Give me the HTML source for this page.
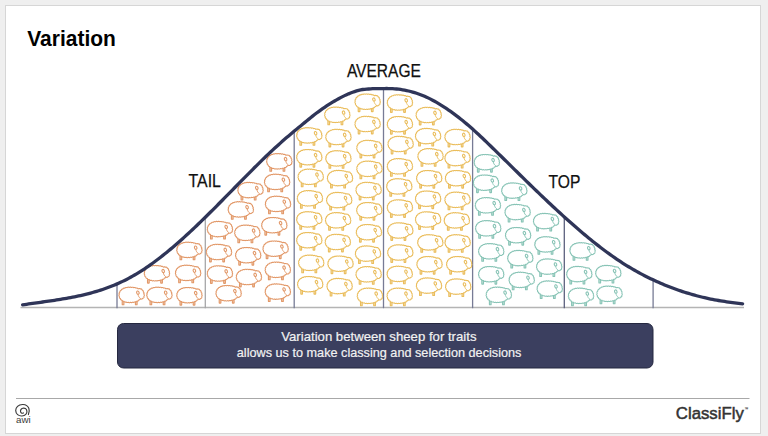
<!DOCTYPE html>
<html><head><meta charset="utf-8"><style>
html,body{margin:0;padding:0;background:#efefef;}
body{width:768px;height:436px;overflow:hidden;position:relative;}
svg{position:absolute;left:0;top:0;}
</style></head><body>
<svg width="768" height="436" viewBox="0 0 768 436">
<defs>
<filter id="wool" x="-5%" y="-5%" width="110%" height="110%">
<feTurbulence type="fractalNoise" baseFrequency="1.1" numOctaves="1" seed="3" result="n"/>
<feDisplacementMap in="SourceGraphic" in2="n" scale="1.1" xChannelSelector="R" yChannelSelector="G"/>
</filter>
<symbol id="sh" viewBox="0 0 28 21" width="28" height="21" overflow="visible">
<g fill="#fff" stroke="currentColor" stroke-width="1.1" stroke-linejoin="round">
<rect x="3.5" y="12.3" width="1.7" height="5.6" rx="0.3" fill="currentColor" fill-opacity="0.45"/>
<rect x="16.7" y="11.8" width="1.7" height="6.1" rx="0.3" fill="currentColor" fill-opacity="0.45"/>
<path d="M10.60,0.60 10.85,0.46 11.10,0.34 11.36,0.26 11.61,0.22 11.86,0.23 12.11,0.28 12.36,0.39 12.61,0.52 12.85,0.64 13.11,0.52 13.37,0.42 13.63,0.35 13.89,0.33 14.14,0.36 14.39,0.44 14.63,0.56 14.86,0.72 15.10,0.83 15.37,0.73 15.64,0.65 15.90,0.61 16.16,0.62 16.41,0.67 16.65,0.78 16.87,0.93 17.09,1.11 17.33,1.22 17.60,1.15 17.88,1.11 18.15,1.11 18.40,1.15 18.64,1.25 18.86,1.40 19.07,1.59 19.25,1.81 19.47,1.93 19.76,1.92 19.92,1.90 20.02,1.76 20.30,1.66 20.59,1.64 20.87,1.69 21.14,1.81 21.39,1.97 21.64,2.02 21.92,1.96 22.22,1.95 22.50,2.01 22.75,2.12 22.97,2.30 23.14,2.53 23.27,2.78 23.36,3.05 23.56,3.22 23.83,3.33 24.07,3.47 24.27,3.66 24.43,3.87 24.54,4.12 24.59,4.39 24.60,4.67 24.58,4.96 24.73,5.17 24.94,5.36 25.12,5.58 25.25,5.81 25.33,6.06 25.35,6.32 25.32,6.59 25.26,6.87 25.16,7.14 25.28,7.38 25.43,7.62 25.55,7.87 25.61,8.12 25.63,8.39 25.58,8.65 25.49,8.90 25.35,9.15 25.18,9.39 25.25,9.66 25.30,9.95 25.29,10.24 25.22,10.52 25.08,10.77 24.87,10.97 24.62,11.12 24.35,11.23 24.07,11.29 23.93,11.55 23.76,11.78 23.54,11.98 23.30,12.11 23.02,12.18 22.74,12.18 22.46,12.12 22.19,12.01 21.94,11.90 21.67,12.01 21.51,12.07 21.52,12.21 21.40,12.41 21.22,12.60 20.99,12.75 20.74,12.86 20.46,12.93 20.22,13.04 20.11,13.31 19.98,13.55 19.81,13.77 19.61,13.94 19.38,14.07 19.12,14.15 18.84,14.18 18.56,14.17 18.31,14.23 18.12,14.45 17.92,14.64 17.70,14.80 17.46,14.90 17.21,14.96 16.95,14.97 16.67,14.93 16.40,14.87 16.15,14.91 15.93,15.10 15.70,15.26 15.47,15.37 15.22,15.44 14.96,15.46 14.70,15.43 14.44,15.36 14.17,15.26 13.92,15.31 13.68,15.46 13.44,15.59 13.20,15.68 12.94,15.72 12.69,15.71 12.43,15.65 12.17,15.55 11.92,15.42 11.67,15.48 11.42,15.61 11.17,15.72 10.92,15.78 10.66,15.80 10.41,15.76 10.15,15.68 9.90,15.55 9.66,15.41 9.40,15.46 9.14,15.57 8.88,15.64 8.61,15.67 8.36,15.64 8.11,15.57 7.87,15.44 7.64,15.28 7.42,15.09 7.16,15.13 6.88,15.19 6.61,15.22 6.35,15.20 6.10,15.12 5.86,15.00 5.65,14.83 5.46,14.62 5.28,14.40 5.00,14.42 4.71,14.42 4.44,14.38 4.19,14.30 3.96,14.17 3.77,14.00 3.60,13.78 3.46,13.53 3.32,13.28 3.04,13.24 2.76,13.17 2.51,13.06 2.29,12.91 2.11,12.72 1.97,12.49 1.88,12.22 1.81,11.94 1.74,11.69 1.48,11.55 1.25,11.40 1.04,11.21 0.89,10.99 0.79,10.74 0.74,10.48 0.74,10.20 0.78,9.91 0.77,9.65 0.58,9.43 0.42,9.20 0.30,8.96 0.23,8.69 0.23,8.43 0.28,8.16 0.39,7.90 0.52,7.65 0.57,7.40 0.47,7.13 0.40,6.86 0.37,6.59 0.40,6.32 0.50,6.07 0.64,5.84 0.83,5.63 1.05,5.44 1.16,5.21 1.15,4.92 1.19,4.64 1.27,4.38 1.39,4.15 1.57,3.95 1.79,3.79 2.04,3.66 2.31,3.56 2.47,3.36 2.56,3.09 2.68,2.84 2.84,2.62 3.04,2.44 3.27,2.31 3.52,2.23 3.80,2.18 4.09,2.16 4.28,1.99 4.44,1.75 4.63,1.55 4.83,1.38 5.06,1.26 5.32,1.20 5.59,1.18 5.87,1.20 6.15,1.24 6.37,1.09 6.57,0.90 6.80,0.74 7.03,0.62 7.28,0.55 7.54,0.54 7.81,0.58 8.08,0.65 8.35,0.75 8.59,0.60 8.82,0.45 9.07,0.33 9.32,0.26 9.57,0.24 9.83,0.27 10.09,0.35 10.35,0.46Z"/>
<ellipse cx="19.2" cy="5.8" rx="1.2" ry="1.7" transform="rotate(-20 19.2 5.8)"/>
<path d="M19.4,7.6 C19.6,9.3 20.4,10.7 21.8,11.5" fill="none" stroke-width="0.9"/>
</g>
</symbol>
</defs>
<rect x="5.5" y="5.5" width="755" height="428" fill="#fff" stroke="#d6d6d6" stroke-width="1"/>
<text x="27.3" y="45.7" font-family="Liberation Sans, sans-serif" font-weight="bold" font-size="22" textLength="88.5" lengthAdjust="spacingAndGlyphs" fill="#000">Variation</text>
<line x1="20.5" y1="307.5" x2="744" y2="307.5" stroke="#b4b4b4" stroke-width="1.3"/>
<line x1="117" y1="283.9" x2="117" y2="308.2" stroke="#777b95" stroke-width="1.3"/>
<line x1="205.3" y1="217.3" x2="205.3" y2="308.2" stroke="#a6a6a8" stroke-width="1.3"/>
<line x1="294.2" y1="131.2" x2="294.2" y2="308.2" stroke="#777b95" stroke-width="1.3"/>
<line x1="383.5" y1="88.6" x2="383.5" y2="308.2" stroke="#777b95" stroke-width="1.3"/>
<line x1="472.6" y1="129.1" x2="472.6" y2="308.2" stroke="#777b95" stroke-width="1.3"/>
<line x1="564.3" y1="216.9" x2="564.3" y2="308.2" stroke="#5c607e" stroke-width="1.3"/>
<line x1="653.1" y1="279.8" x2="653.1" y2="308.2" stroke="#777b95" stroke-width="1.3"/>
<g filter="url(#wool)">
<use href="#sh" x="118.7" y="286.9" style="color:#e29868"/>
<use href="#sh" x="146.5" y="286.9" style="color:#e29868"/>
<use href="#sh" x="176.5" y="287.2" style="color:#e29868"/>
<use href="#sh" x="144.0" y="265.2" style="color:#e29868"/>
<use href="#sh" x="175.2" y="264.9" style="color:#e29868"/>
<use href="#sh" x="176.5" y="241.9" style="color:#e29868"/>
<use href="#sh" x="207.0" y="221.1" style="color:#e29868"/>
<use href="#sh" x="206.1" y="244.0" style="color:#e29868"/>
<use href="#sh" x="207.0" y="265.5" style="color:#e29868"/>
<use href="#sh" x="215.7" y="285.2" style="color:#e29868"/>
<use href="#sh" x="227.9" y="201.4" style="color:#e29868"/>
<use href="#sh" x="237.6" y="182.1" style="color:#e29868"/>
<use href="#sh" x="234.4" y="224.8" style="color:#e29868"/>
<use href="#sh" x="235.3" y="247.2" style="color:#e29868"/>
<use href="#sh" x="236.0" y="269.0" style="color:#e29868"/>
<use href="#sh" x="266.4" y="153.3" style="color:#e29868"/>
<use href="#sh" x="264.2" y="173.9" style="color:#e29868"/>
<use href="#sh" x="265.1" y="195.9" style="color:#e29868"/>
<use href="#sh" x="261.4" y="217.2" style="color:#e29868"/>
<use href="#sh" x="262.7" y="240.7" style="color:#e29868"/>
<use href="#sh" x="264.9" y="261.8" style="color:#e29868"/>
<use href="#sh" x="264.9" y="283.6" style="color:#e29868"/>
<use href="#sh" x="296.4" y="127.4" style="color:#eabd5c"/>
<use href="#sh" x="296.4" y="149.2" style="color:#eabd5c"/>
<use href="#sh" x="297.8" y="168.8" style="color:#eabd5c"/>
<use href="#sh" x="297.0" y="190.3" style="color:#eabd5c"/>
<use href="#sh" x="296.4" y="211.4" style="color:#eabd5c"/>
<use href="#sh" x="296.4" y="232.2" style="color:#eabd5c"/>
<use href="#sh" x="298.3" y="254.8" style="color:#eabd5c"/>
<use href="#sh" x="297.3" y="276.2" style="color:#eabd5c"/>
<use href="#sh" x="324.4" y="106.8" style="color:#eabd5c"/>
<use href="#sh" x="325.5" y="129.0" style="color:#eabd5c"/>
<use href="#sh" x="325.5" y="150.4" style="color:#eabd5c"/>
<use href="#sh" x="327.1" y="170.1" style="color:#eabd5c"/>
<use href="#sh" x="326.3" y="192.1" style="color:#eabd5c"/>
<use href="#sh" x="325.2" y="212.3" style="color:#eabd5c"/>
<use href="#sh" x="324.9" y="234.0" style="color:#eabd5c"/>
<use href="#sh" x="327.6" y="255.7" style="color:#eabd5c"/>
<use href="#sh" x="326.7" y="278.1" style="color:#eabd5c"/>
<use href="#sh" x="354.7" y="93.7" style="color:#eabd5c"/>
<use href="#sh" x="354.7" y="116.0" style="color:#eabd5c"/>
<use href="#sh" x="356.5" y="140.0" style="color:#eabd5c"/>
<use href="#sh" x="356.5" y="160.8" style="color:#eabd5c"/>
<use href="#sh" x="355.7" y="182.0" style="color:#eabd5c"/>
<use href="#sh" x="356.4" y="202.2" style="color:#eabd5c"/>
<use href="#sh" x="356.0" y="224.2" style="color:#eabd5c"/>
<use href="#sh" x="355.1" y="245.6" style="color:#eabd5c"/>
<use href="#sh" x="355.7" y="266.3" style="color:#eabd5c"/>
<use href="#sh" x="357.0" y="287.8" style="color:#eabd5c"/>
<use href="#sh" x="387.0" y="94.5" style="color:#eabd5c"/>
<use href="#sh" x="387.0" y="116.2" style="color:#eabd5c"/>
<use href="#sh" x="387.7" y="136.0" style="color:#eabd5c"/>
<use href="#sh" x="387.0" y="158.3" style="color:#eabd5c"/>
<use href="#sh" x="386.4" y="178.4" style="color:#eabd5c"/>
<use href="#sh" x="387.0" y="199.5" style="color:#eabd5c"/>
<use href="#sh" x="387.4" y="222.5" style="color:#eabd5c"/>
<use href="#sh" x="387.4" y="244.5" style="color:#eabd5c"/>
<use href="#sh" x="386.8" y="265.9" style="color:#eabd5c"/>
<use href="#sh" x="386.8" y="287.8" style="color:#eabd5c"/>
<use href="#sh" x="415.8" y="107.0" style="color:#eabd5c"/>
<use href="#sh" x="415.2" y="128.1" style="color:#eabd5c"/>
<use href="#sh" x="417.6" y="148.3" style="color:#eabd5c"/>
<use href="#sh" x="416.3" y="170.2" style="color:#eabd5c"/>
<use href="#sh" x="415.2" y="190.7" style="color:#eabd5c"/>
<use href="#sh" x="415.2" y="211.5" style="color:#eabd5c"/>
<use href="#sh" x="417.4" y="234.4" style="color:#eabd5c"/>
<use href="#sh" x="416.6" y="256.2" style="color:#eabd5c"/>
<use href="#sh" x="416.1" y="277.6" style="color:#eabd5c"/>
<use href="#sh" x="444.6" y="129.0" style="color:#eabd5c"/>
<use href="#sh" x="444.6" y="150.1" style="color:#eabd5c"/>
<use href="#sh" x="445.1" y="170.2" style="color:#eabd5c"/>
<use href="#sh" x="444.6" y="191.8" style="color:#eabd5c"/>
<use href="#sh" x="443.9" y="212.4" style="color:#eabd5c"/>
<use href="#sh" x="444.7" y="234.4" style="color:#eabd5c"/>
<use href="#sh" x="446.3" y="256.2" style="color:#eabd5c"/>
<use href="#sh" x="445.3" y="278.6" style="color:#eabd5c"/>
<use href="#sh" x="473.9" y="154.2" style="color:#88c4b6"/>
<use href="#sh" x="473.1" y="174.7" style="color:#88c4b6"/>
<use href="#sh" x="475.0" y="197.3" style="color:#88c4b6"/>
<use href="#sh" x="475.3" y="220.3" style="color:#88c4b6"/>
<use href="#sh" x="478.3" y="243.3" style="color:#88c4b6"/>
<use href="#sh" x="478.3" y="266.2" style="color:#88c4b6"/>
<use href="#sh" x="485.9" y="286.8" style="color:#88c4b6"/>
<use href="#sh" x="501.4" y="182.6" style="color:#88c4b6"/>
<use href="#sh" x="504.7" y="204.1" style="color:#88c4b6"/>
<use href="#sh" x="505.2" y="227.2" style="color:#88c4b6"/>
<use href="#sh" x="507.4" y="250.1" style="color:#88c4b6"/>
<use href="#sh" x="508.8" y="271.9" style="color:#88c4b6"/>
<use href="#sh" x="533.2" y="213.1" style="color:#88c4b6"/>
<use href="#sh" x="534.5" y="236.4" style="color:#88c4b6"/>
<use href="#sh" x="536.3" y="258.6" style="color:#88c4b6"/>
<use href="#sh" x="536.8" y="280.6" style="color:#88c4b6"/>
<use href="#sh" x="569.6" y="242.4" style="color:#88c4b6"/>
<use href="#sh" x="566.4" y="266.1" style="color:#88c4b6"/>
<use href="#sh" x="595.4" y="265.1" style="color:#88c4b6"/>
<use href="#sh" x="568.1" y="287.8" style="color:#88c4b6"/>
<use href="#sh" x="596.6" y="285.8" style="color:#88c4b6"/>
</g>
<path d="M22.6,304.87 L24.6,304.57 L26.6,304.27 L28.6,303.98 L30.6,303.69 L32.6,303.41 L34.6,303.12 L36.6,302.84 L38.6,302.56 L40.6,302.28 L42.6,302.00 L44.6,301.72 L46.6,301.44 L48.6,301.15 L50.6,300.86 L52.6,300.56 L54.6,300.26 L56.6,299.95 L58.6,299.64 L60.6,299.32 L62.6,298.99 L64.6,298.65 L66.6,298.30 L68.6,297.94 L70.6,297.57 L72.6,297.19 L74.6,296.79 L76.6,296.38 L78.6,295.96 L80.6,295.52 L82.6,295.06 L84.6,294.59 L86.6,294.10 L88.6,293.59 L90.6,293.06 L92.6,292.52 L94.6,291.95 L96.6,291.36 L98.6,290.75 L100.6,290.11 L102.6,289.45 L104.6,288.77 L106.6,288.06 L108.6,287.32 L110.6,286.56 L112.6,285.77 L114.6,284.96 L116.6,284.11 L118.6,283.23 L120.6,282.32 L122.6,281.38 L124.6,280.41 L126.6,279.41 L128.6,278.37 L130.6,277.29 L132.6,276.18 L134.6,275.04 L136.6,273.86 L138.6,272.64 L140.6,271.39 L142.6,270.11 L144.6,268.80 L146.6,267.46 L148.6,266.08 L150.6,264.68 L152.6,263.24 L154.6,261.78 L156.6,260.29 L158.6,258.78 L160.6,257.23 L162.6,255.66 L164.6,254.07 L166.6,252.45 L168.6,250.81 L170.6,249.14 L172.6,247.45 L174.6,245.74 L176.6,244.01 L178.6,242.26 L180.6,240.49 L182.6,238.70 L184.6,236.89 L186.6,235.07 L188.6,233.23 L190.6,231.37 L192.6,229.49 L194.6,227.60 L196.6,225.70 L198.6,223.79 L200.6,221.86 L202.6,219.92 L204.6,217.96 L206.6,216.00 L208.6,214.03 L210.6,212.04 L212.6,210.05 L214.6,208.05 L216.6,206.04 L218.6,204.03 L220.6,202.00 L222.6,199.98 L224.6,197.95 L226.6,195.91 L228.6,193.88 L230.6,191.84 L232.6,189.80 L234.6,187.76 L236.6,185.72 L238.6,183.69 L240.6,181.65 L242.6,179.62 L244.6,177.60 L246.6,175.57 L248.6,173.56 L250.6,171.55 L252.6,169.54 L254.6,167.54 L256.6,165.55 L258.6,163.57 L260.6,161.60 L262.6,159.64 L264.6,157.70 L266.6,155.78 L268.6,153.88 L270.6,152.00 L272.6,150.14 L274.6,148.29 L276.6,146.47 L278.6,144.66 L280.6,142.87 L282.6,141.09 L284.6,139.34 L286.6,137.60 L288.6,135.88 L290.6,134.17 L292.6,132.49 L294.6,130.82 L296.6,129.16 L298.6,127.53 L300.6,125.91 L302.6,124.28 L304.6,122.64 L306.6,121.01 L308.6,119.37 L310.6,117.75 L312.6,116.16 L314.6,114.58 L316.6,113.05 L318.6,111.56 L320.6,110.11 L322.6,108.70 L324.6,107.32 L326.6,105.97 L328.6,104.66 L330.6,103.39 L332.6,102.16 L334.6,100.97 L336.6,99.83 L338.6,98.73 L340.6,97.65 L342.6,96.62 L344.6,95.64 L346.6,94.71 L348.6,93.85 L350.6,93.05 L352.6,92.30 L354.6,91.59 L356.6,90.92 L358.6,90.30 L360.6,89.83 L362.6,89.50 L364.6,89.28 L366.6,89.12 L368.6,88.98 L370.6,88.83 L372.6,88.72 L374.6,88.67 L376.6,88.65 L378.6,88.65 L380.6,88.65 L382.6,88.63 L384.6,88.57 L386.6,88.52 L388.6,88.54 L390.6,88.59 L392.6,88.67 L394.6,88.80 L396.6,88.99 L398.6,89.21 L400.6,89.48 L402.6,89.79 L404.6,90.15 L406.6,90.56 L408.6,91.01 L410.6,91.52 L412.6,92.07 L414.6,92.66 L416.6,93.29 L418.6,93.97 L420.6,94.69 L422.6,95.47 L424.6,96.29 L426.6,97.18 L428.6,98.12 L430.6,99.13 L432.6,100.18 L434.6,101.27 L436.6,102.40 L438.6,103.58 L440.6,104.79 L442.6,106.04 L444.6,107.33 L446.6,108.66 L448.6,110.03 L450.6,111.43 L452.6,112.87 L454.6,114.35 L456.6,115.85 L458.6,117.40 L460.6,118.97 L462.6,120.58 L464.6,122.22 L466.6,123.89 L468.6,125.59 L470.6,127.33 L472.6,129.10 L474.6,130.89 L476.6,132.71 L478.6,134.56 L480.6,136.43 L482.6,138.32 L484.6,140.22 L486.6,142.14 L488.6,144.07 L490.6,146.01 L492.6,147.96 L494.6,149.92 L496.6,151.88 L498.6,153.84 L500.6,155.79 L502.6,157.75 L504.6,159.72 L506.6,161.68 L508.6,163.65 L510.6,165.62 L512.6,167.59 L514.6,169.56 L516.6,171.53 L518.6,173.49 L520.6,175.45 L522.6,177.41 L524.6,179.37 L526.6,181.32 L528.6,183.27 L530.6,185.21 L532.6,187.15 L534.6,189.08 L536.6,191.01 L538.6,192.93 L540.6,194.84 L542.6,196.75 L544.6,198.65 L546.6,200.55 L548.6,202.43 L550.6,204.31 L552.6,206.18 L554.6,208.04 L556.6,209.89 L558.6,211.74 L560.6,213.57 L562.6,215.39 L564.6,217.20 L566.6,219.00 L568.6,220.79 L570.6,222.57 L572.6,224.33 L574.6,226.08 L576.6,227.82 L578.6,229.55 L580.6,231.26 L582.6,232.95 L584.6,234.63 L586.6,236.29 L588.6,237.94 L590.6,239.57 L592.6,241.18 L594.6,242.78 L596.6,244.36 L598.6,245.91 L600.6,247.45 L602.6,248.97 L604.6,250.48 L606.6,251.96 L608.6,253.42 L610.6,254.85 L612.6,256.27 L614.6,257.67 L616.6,259.04 L618.6,260.39 L620.6,261.72 L622.6,263.02 L624.6,264.29 L626.6,265.54 L628.6,266.76 L630.6,267.96 L632.6,269.13 L634.6,270.28 L636.6,271.40 L638.6,272.50 L640.6,273.58 L642.6,274.64 L644.6,275.67 L646.6,276.68 L648.6,277.68 L650.6,278.65 L652.6,279.60 L654.6,280.53 L656.6,281.45 L658.6,282.34 L660.6,283.22 L662.6,284.08 L664.6,284.92 L666.6,285.74 L668.6,286.53 L670.6,287.31 L672.6,288.07 L674.6,288.80 L676.6,289.52 L678.6,290.22 L680.6,290.90 L682.6,291.56 L684.6,292.21 L686.6,292.84 L688.6,293.45 L690.6,294.04 L692.6,294.62 L694.6,295.18 L696.6,295.72 L698.6,296.25 L700.6,296.77 L702.6,297.26 L704.6,297.73 L706.6,298.18 L708.6,298.60 L710.6,299.01 L712.6,299.40 L714.6,299.78 L716.6,300.15 L718.6,300.50 L720.6,300.85 L722.6,301.17 L724.6,301.48 L726.6,301.77 L728.6,302.04 L730.6,302.31 L732.6,302.56 L734.6,302.81 L736.6,303.05 L738.6,303.30 L740.6,303.54 L742.6,303.79" fill="none" stroke="#2f3558" stroke-width="3.3" stroke-linecap="round" stroke-linejoin="round"/>
<text x="346.9" y="77" font-family="Liberation Sans, sans-serif" font-size="17.8" textLength="74" stroke="#111" stroke-width="0.25" lengthAdjust="spacingAndGlyphs" fill="#111">AVERAGE</text>
<text x="188.6" y="187.3" font-family="Liberation Sans, sans-serif" font-size="17.8" textLength="32.3" stroke="#111" stroke-width="0.25" lengthAdjust="spacingAndGlyphs" fill="#111">TAIL</text>
<text x="548.6" y="188" font-family="Liberation Sans, sans-serif" font-size="17.8" textLength="31.8" stroke="#111" stroke-width="0.25" lengthAdjust="spacingAndGlyphs" fill="#111">TOP</text>
<rect x="117.5" y="323.5" width="535.5" height="44.5" rx="6" fill="#3b3f5f" stroke="#252840" stroke-width="1"/>
<text x="281.2" y="340.6" font-family="Liberation Sans, sans-serif" font-size="12.6" textLength="195.3" lengthAdjust="spacingAndGlyphs" fill="#f2f2f2" stroke="#f2f2f2" stroke-width="0.2">Variation between sheep for traits</text>
<text x="236.8" y="357.2" font-family="Liberation Sans, sans-serif" font-size="12.6" textLength="284.6" lengthAdjust="spacingAndGlyphs" fill="#f2f2f2" stroke="#f2f2f2" stroke-width="0.2">allows us to make classing and selection decisions</text>
<line x1="16" y1="398.5" x2="749.5" y2="398.5" stroke="#a8a8a8" stroke-width="1"/>
<g fill="none" stroke="#3a3a3a" stroke-width="1.15" stroke-linecap="round">
<path d="M28.4,414.6 C30.2,411 29.5,404.8 23,404.5 C18.2,404.3 15.6,407.6 15.7,410.6 C15.8,414 18.6,416.2 22,416 C25.3,415.8 27.2,413.6 26.9,411.1 C26.6,408.6 24.6,407.8 22.8,408.2 C21,408.6 20.2,410.3 20.6,411.9 C20.9,413.1 22.3,413.6 23.4,412.9"/>
</g>
<text x="16.1" y="422.6" font-family="Liberation Sans, sans-serif" font-size="9.6" textLength="14.6" lengthAdjust="spacingAndGlyphs" fill="#3a3a3a">awi</text>
<text x="675.8" y="418.8" font-family="Liberation Sans, sans-serif" font-size="16.8" textLength="68" lengthAdjust="spacingAndGlyphs" fill="#333" stroke="#333" stroke-width="0.5">ClassiFly</text>
<text x="744.6" y="411.2" font-family="Liberation Sans, sans-serif" font-size="5.2" textLength="3.8" lengthAdjust="spacingAndGlyphs" fill="#444" stroke="#444" stroke-width="0.15">™</text>
</svg>
</body></html>
